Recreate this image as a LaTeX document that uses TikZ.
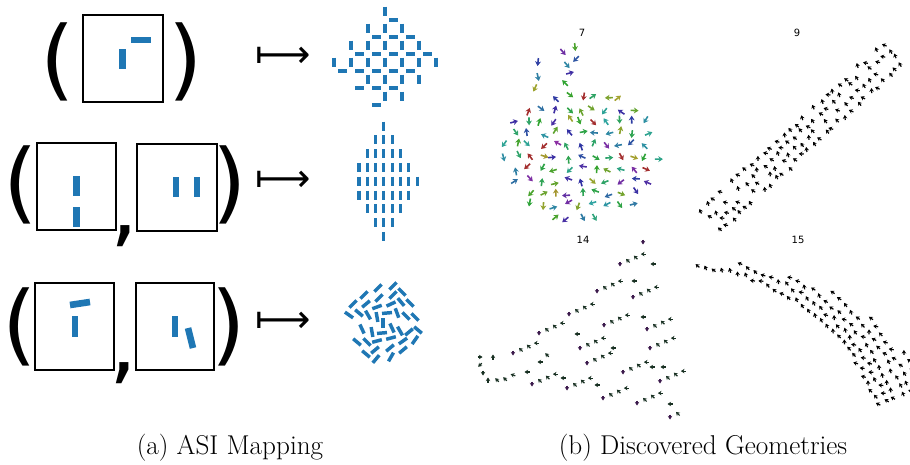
\documentclass[tikz,border=0pt]{standalone}
\usepackage{xcolor}
\usepackage{fontspec}
\newfontfamily\plotfont{DejaVu Sans}
\usepackage{tikz}
\usetikzlibrary{arrows.meta, calc}
\definecolor{asiblue}{RGB}{31,119,180}
\definecolor{qdark}{RGB}{24,48,34}
\definecolor{qpurple}{RGB}{60,26,76}

\begin{document}
\begin{tikzpicture}[
x=0.75pt,y=-0.75pt,
brace/.style={
    inner sep=0pt,font=\plotfont\fontsize{66}{66}\selectfont
},
maps/.style={
    inner sep=0pt,font=\plotfont\fontsize{29}{30}\selectfont
},
cell/.style={
    draw=black,line width=1.1pt
},
spin/.style={
    draw=asiblue,line width=5pt
},
gridbar/.style={
    draw=asiblue,line width=3pt
},
rhombbar/.style={
    draw=asiblue,line width=2.3pt
},
loosebar/.style={
    draw=asiblue,line width=2.6pt
},
subcap/.style={
    inner sep=0pt,font=\fontsize{20.4}{22}\selectfont
},
ptitle/.style={
    inner sep=0pt,font=\plotfont\fontsize{7.5}{8}\selectfont
},
qbig/.style={
    line width=1.2pt,-{Stealth[length=3.5pt,width=4.4pt]}
},
qsmall/.style={
    line width=0.9pt,-{Stealth[length=2.7pt,width=3.4pt]},draw=qdark
}
]
    \useasboundingbox (0,0) rectangle (910,464);

    \node(L1)[brace] at (58,62){(};
    \node(R1)[brace] at (186,62){)};
    \draw[cell] (83,15) rectangle (163,102);
    \draw[spin] (131,40) -- (151,40);
    \draw[spin] (122.5,49) -- (122.5,69);
    \node(M1)[maps] at (283,57){⟼};

    \node(L2)[brace] at (21,185){(};
    \node(C2)[brace] at (124,236){,};
    \node(R2)[brace] at (230,185){)};
    \draw[cell] (37,143) rectangle (116,230);
    \draw[cell] (137,144) rectangle (217,231);
    \draw[spin] (76.5,176) -- (76.5,196);
    \draw[spin] (76.5,207) -- (76.5,227);
    \draw[spin] (176,177) -- (176,197);
    \draw[spin] (197,177) -- (197,197);
    \node(M2)[maps] at (283,181){⟼};

    \node(L3)[brace] at (20,327){(};
    \node(C3)[brace] at (123,373){,};
    \node(R3)[brace] at (229,327){)};
    \draw[cell] (35,283) rectangle (114,370);
    \draw[cell] (136,283) rectangle (214,370);
    \draw[spin] (70,305) -- (90,302);
    \draw[spin] (75,316) -- (75,337);
    \draw[spin] (175,316) -- (175,337);
    \draw[spin] (188,328) -- (193,348);
    \node(M3)[maps] at (283,322){⟼};

    \foreach \j/\a/\b in {-3/0/0,-2/-1/1,-1/-2/2,0/-3/3,1/-1/2,2/0/1}{
        \foreach \i in {\a,...,\b}{
            \draw[gridbar] (385+17*\i,57.5+17*\j) -- (385+17*\i,66.5+17*\j);
        }
    }
    \foreach \j/\a/\b in {-3/0/0,-2/-1/1,-1/-2/2,0/-3/1,1/-2/0,2/-1/-1}{
        \foreach \i in {\a,...,\b}{
            \draw[gridbar] (389+17*\i,70.5+17*\j) -- (398+17*\i,70.5+17*\j);
        }
    }

    \foreach \r/\a/\b in {0/3/3,1/2/4,2/1/5,3/0/6,4/0/7,5/0/6,6/1/5,7/2/4,8/3/3}{
        \foreach \k in {\a,...,\b}{
            \draw[rhombbar] (359+8.3*\k,121.5+13.8*\r) -- (359+8.3*\k,130.5+13.8*\r);
        }
    }

    \foreach \x/\y/\a in {378/288/-45,393/286/-45,364/295/-45,379/298/-45,393/295/-45,
        402/292/45,353/304/-45,366/304/-40,377/307/-20,391/304/-25,401/302/50,410/303/45,
        349/315/35,359/313/40,368/315/60,377/317/80,387/313/-5,397/313/70,406/316/45,
        415/317/45,362/329/65,372/332/80,383/323/90,392/328/65,400/331/60,409/332/-40,
        418/330/40,382/333/-5,357/342/40,367/342/45,377/341/-15,391/338/-15,403/341/-35,
        415/340/-55,366/354/40,375/350/-40,390/348/-40,403/350/-40,376/359/-50,391/357/-60}{
        \draw[loosebar] (\x,\y) ++(\a:-5) -- ++(\a:10);
    }

    \node(T7)[ptitle] at (582,33){7};
    \node(T9)[ptitle] at (797,33){9};
    \node(T14)[ptitle] at (583,240){14};
    \node(T15)[ptitle] at (798,240){15};

    \pgfmathsetseed{7}
    \foreach \i in {0,...,12}{
        \foreach \j in {0,...,12}{
            \pgfmathsetmacro\px{503+13*\i+3*rand}
            \pgfmathsetmacro\py{85+12*\j+3*rand}
            \pgfmathtruncatemacro\inq{((\px-581)/80)^2+((\py-154)/68)^2<1}
            \ifnum\inq=1
                \pgfmathsetmacro\hue{rnd<0.08 ? 0.0 : 0.14+0.66*rnd}
                \pgfmathsetmacro\ang{360*rnd}
                \definecolor{qh}{hsb}{\hue,0.9,0.8}
                \colorlet{qc}[rgb]{qh!80!black}
                \draw[qbig,draw=qc] (\px,\py) ++(\ang:-4) -- ++(\ang:8);
            \fi
        }
    }
    \foreach \px/\py in {563/52,575/47,576/59,567/65,570/73,538/62,538/77,565/83,535/88}{
        \pgfmathsetmacro\hue{0.14+0.66*rnd}
        \pgfmathsetmacro\ang{360*rnd}
        \definecolor{qh}{hsb}{\hue,0.9,0.8}
        \colorlet{qc}[rgb]{qh!80!black}
        \draw[qbig,draw=qc] (\px,\py) ++(\ang:-4) -- ++(\ang:8);
    }

    \foreach \t in {0,...,29}{
        \foreach \s in {-15,-6,3,12}{
            \pgfmathsetmacro\px{712+6.25*\t+0.687*\s+2*rand}
            \pgfmathsetmacro\py{222-5.76*\t+0.73*\s+2*rand}
            \pgfmathsetmacro\ang{180+90*rnd}
            \pgfmathtruncatemacro\keep{rnd<0.85}
            \ifnum\keep=1
                \draw[qsmall,draw=black] (\px,\py) ++(\ang:-2.5) -- ++(\ang:5);
            \fi
        }
    }

    \foreach \x/\y/\n in {643/242/1,620/264/4,597/291/4,633/297/4,569/314/4,604/325/4,
        647/329/4,539/333/4,580/348/4,650/348/4,513/353/4,587/363/4,623/372/4,660/381/4,
        532/384/4,567/388/4,603/398/4,637/403/4,670/417/2}{
        \foreach \k in {1,...,\n}{
            \pgfmathsetmacro\ang{{90,225,225,180}[\k-1]}
            \ifnum\k=1
                \draw[qsmall,draw=qpurple] (\x+7.8*\k-7.8,\y-3.3*\k+3.3) ++(\ang:-2.5) -- ++(\ang:5);
            \else
                \draw[qsmall] (\x+7.8*\k-7.8,\y-3.3*\k+3.3) ++(\ang:-2.5) -- ++(\ang:5);
            \fi
        }
    }
    \foreach \x/\y/\a in {653/264/180,634/281/180,643/317/180,577/334/180,613/348/180,
        652/367/180,663/367/180,670/404/180,563/378/180,597/385/180,480/357/0,493/357/270,
        480/365/135,483/373/90,488/380/270,497/380/225,505/379/225,513/375/200,527/372/180,
        540/362/180,547/355/225}{
        \draw[qsmall] (\x,\y) ++(\a:-2.5) -- ++(\a:5);
    }

    \foreach \th in {88,85.8,...,20}{
        \pgfmathsetmacro\rin{213-(88-\th)*0.17}
        \pgfmathsetmacro\rout{min(214+(88-\th)*0.6,250)}
        \pgfmathtruncatemacro\nr{(\rout-\rin)/9}
        \foreach \m in {0,...,\nr}{
            \pgfmathsetmacro\rr{\rin+9*\m+2*rand}
            \pgfmathsetmacro\px{690+\rr*cos(\th)}
            \pgfmathsetmacro\py{480-\rr*sin(\th)}
            \pgfmathsetmacro\ang{180+90*rnd}
            \draw[qsmall,draw=black] (\px,\py) ++(\ang:-2.5) -- ++(\ang:5);
        }
    }

    \node(CA)[subcap] at (230,448){(a) ASI Mapping};
    \node(CB)[subcap] at (703,448){(b) Discovered Geometries};
\end{tikzpicture}
\end{document}
